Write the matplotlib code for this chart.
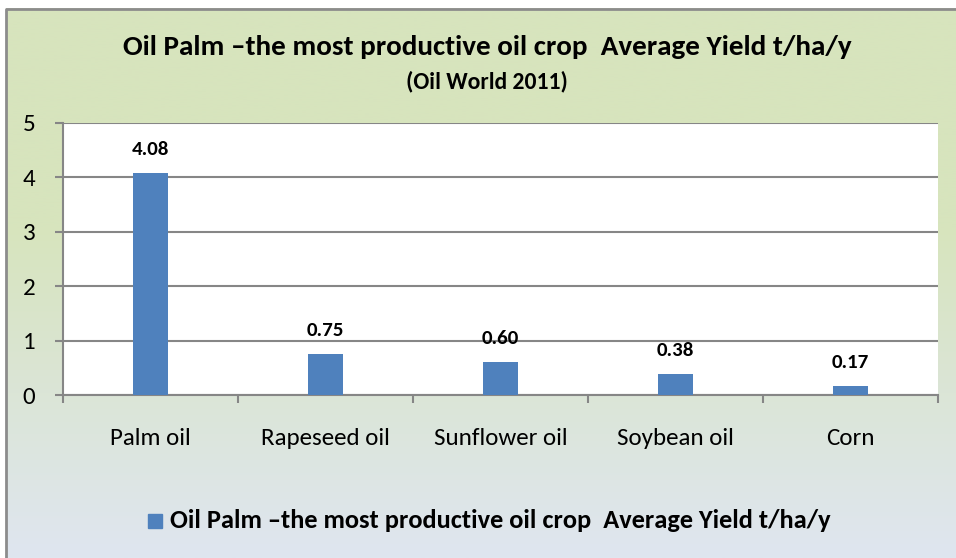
import matplotlib.pyplot as plt
import matplotlib.patches as mpatches
import numpy as np

# Average oil yield per crop, t/ha/y
crops = ['Palm oil', 'Rapeseed oil', 'Sunflower oil', 'Soybean oil', 'Corn']
yields = [4.08, 0.75, 0.60, 0.38, 0.17]
y_ticks = [0, 1, 2, 3, 4, 5]

title = 'Oil Palm \u2013the most productive oil crop  Average Yield t/ha/y'
subtitle = '(Oil World 2011)'

plt.rcParams['font.family'] = ['Carlito', 'Liberation Sans Narrow', 'DejaVu Sans']

W, H = 956, 558
fig = plt.figure(figsize=(W / 100, H / 100), dpi=100)

# background panel with vertical green -> grey-blue gradient
bg = fig.add_axes([0, 0, 1, 1])
bg.set_xlim(0, W)
bg.set_ylim(H, 0)
bg.axis('off')
top = np.array([0xd7, 0xe4, 0xbd]) / 255
bot = np.array([0xdf, 0xe6, 0xf0]) / 255
t = np.linspace(0, 1, 256)[:, None]
t = np.clip((t - 0.4) / 0.6, 0, 1)
grad = (top[None, :] * (1 - t) + bot[None, :] * t)[:, None, :]
bg.imshow(grad, extent=(6, W, H, 8), aspect='auto', zorder=0)
bg.plot([6.5, 6.5, W], [H, 8.5, 8.5], color='#8c8c8c', linewidth=2, zorder=1)

ax = fig.add_axes([63 / W, 1 - 395 / H, (938 - 63) / W, (395 - 122.7) / H])
ax.set_facecolor('white')
x = np.arange(len(crops))
ax.bar(x, yields, width=0.2, color='#4f81bd', zorder=3)
for xi, v in zip(x, yields):
    ax.annotate('%.2f' % v, (xi, v), xytext=(0, 17), textcoords='offset points',
                ha='center', va='center', fontsize=15, fontweight='bold', color='black')

ax.set_xlim(-0.5, len(crops) - 0.5)
ax.set_ylim(0, 5)
ax.set_yticks(y_ticks)
ax.set_yticklabels([str(v) for v in y_ticks], fontsize=18)
ax.yaxis.grid(True, color='#868686', linewidth=1.5, zorder=1)
ax.set_axisbelow(True)

ax.set_xticks(np.arange(len(crops) + 1) - 0.5)
ax.set_xticklabels([])
ax.set_xticks(x, minor=True)
ax.set_xticklabels(crops, minor=True, fontsize=18)
ax.tick_params(axis='x', which='minor', length=0, pad=24)
ax.tick_params(axis='x', which='major', length=6, width=1.5, color='#868686')
ax.tick_params(axis='y', length=6, width=1.5, color='#868686', pad=14)
for s in ['top', 'right']:
    ax.spines[s].set_visible(False)
for s in ['left', 'bottom']:
    ax.spines[s].set_color('#868686')
    ax.spines[s].set_linewidth(1.5)

bg.text(487, 47, title, ha='center', va='center', fontsize=21, fontweight='bold')
bg.text(487, 81, subtitle, ha='center', va='center', fontsize=17, fontweight='bold')

# legend row
bg.add_patch(mpatches.Rectangle((148.5, 514), 14, 14, color='#4f81bd', zorder=2))
bg.text(170, 521, title, ha='left', va='center', fontsize=19, fontweight='bold')

fig.savefig('out.png', dpi=100)
